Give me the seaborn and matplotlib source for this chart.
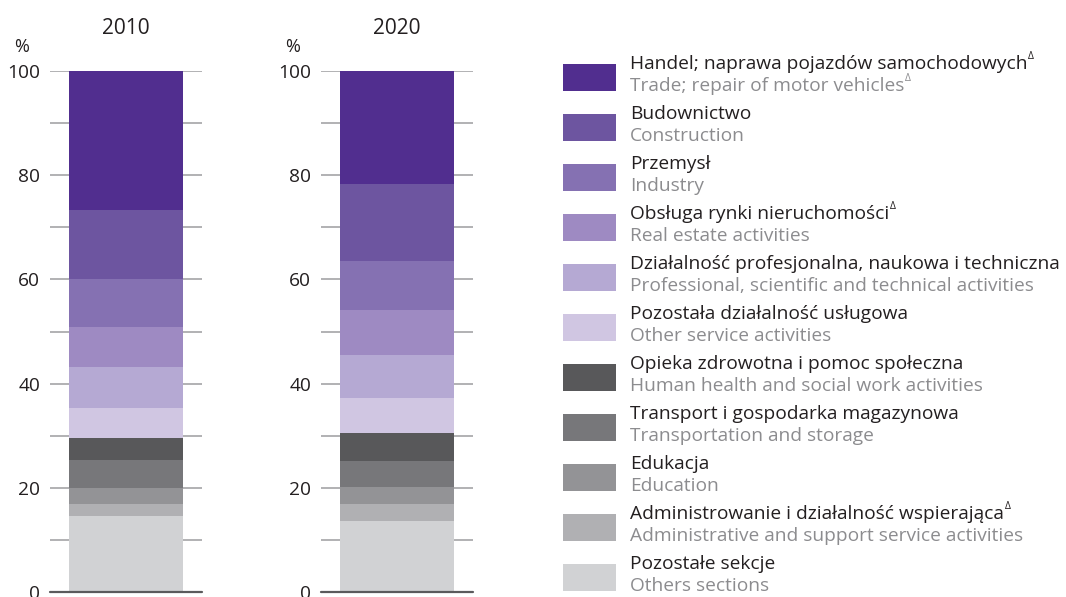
import matplotlib
matplotlib.use("Agg")
import matplotlib.pyplot as plt
from matplotlib.patches import Rectangle
import numpy as np
import pandas as pd
import seaborn as sns

years = ["2010", "2020"]

# Sections listed from the top of the stack down
sections_pl = [
    "Handel; naprawa pojazdów samochodowych",
    "Budownictwo",
    "Przemysł",
    "Obsługa rynki nieruchomości",
    "Działalność profesjonalna, naukowa i techniczna",
    "Pozostała działalność usługowa",
    "Opieka zdrowotna i pomoc społeczna",
    "Transport i gospodarka magazynowa",
    "Edukacja",
    "Administrowanie i działalność wspierająca",
    "Pozostałe sekcje",
]
sections_en = [
    "Trade; repair of motor vehicles",
    "Construction",
    "Industry",
    "Real estate activities",
    "Professional, scientific and technical activities",
    "Other service activities",
    "Human health and social work activities",
    "Transportation and storage",
    "Education",
    "Administrative and support service activities",
    "Others sections",
]
delta_marks = [True, False, False, True, False, False, False, False, False, True, False]
delta_marks_en = [True] + [False] * 10

share_2010 = [26.7, 13.2, 9.2, 7.7, 7.9, 5.7, 4.3, 5.3, 3.1, 2.3, 14.6]
share_2020 = [21.7, 14.8, 9.4, 8.6, 8.3, 6.7, 5.4, 4.9, 3.3, 3.3, 13.6]

colors = [
    "#512e8f", "#6d55a0", "#8571b2", "#9e8ac2", "#b5a9d3", "#d0c6e2",
    "#58585a", "#77777a", "#939396", "#b0b0b3", "#d1d2d4",
]

sns.set_theme(style="white")
plt.rcParams["font.family"] = ["Open Sans", "DejaVu Sans"]

W, H = 1066, 597
fig = plt.figure(figsize=(W / 100, H / 100), dpi=100)

TXT = "#231f20"
GRID = "#9d9d9f"

panels = [(50, years[0], share_2010), (321, years[1], share_2020)]
for left_px, year, shares in panels:
    ax = fig.add_axes([left_px / W, 5 / H, 152 / W, 521 / H])
    # cumulative tops from the bottom section upwards
    tops = np.cumsum(shares[::-1])[::-1]
    df = pd.DataFrame({"year": [year] * len(tops), "top": tops, "section": sections_pl})
    for i, row in df.iterrows():
        sns.barplot(x=[row["year"]], y=[row["top"]], color=colors[i],
                    width=0.75, saturation=1, ax=ax, zorder=2, linewidth=0)
    ax.set_xlim(-0.5, 0.5)
    ax.set_ylim(0, 100)
    ax.set_yticks(np.arange(0, 101, 20))
    ax.set_yticks(np.arange(10, 100, 20), minor=True)
    ax.set_xticks([])
    ax.set_xlabel("")
    ax.set_ylabel("")
    for y in np.arange(10, 101, 10):
        ax.axhline(y, color=GRID, lw=1.1, zorder=1)
    ax.axhline(0, color="#5a5a5c", lw=1.6, zorder=3, clip_on=False)
    for s in ax.spines.values():
        s.set_visible(False)
    ax.tick_params(axis="y", which="both", length=0, pad=7,
                   labelsize=13.8, labelcolor=TXT)
    ax.set_title(year, fontsize=15, color=TXT, pad=27)
    ax.text(-0.19, 1.028, "%", transform=ax.transAxes, fontsize=13,
            color=TXT, ha="center", va="bottom")

# Two-language legend on the right
lax = fig.add_axes([563 / W, 0, (W - 563) / W, 1])
lax.set_xlim(0, W - 563)
lax.set_ylim(H, 0)
lax.axis("off")
for i in range(len(sections_pl)):
    top = 64 + 50 * i
    lax.add_patch(Rectangle((0, top), 53, 27, facecolor=colors[i], edgecolor="none"))
    t1 = lax.text(67, top + 5, sections_pl[i], fontsize=13.8, color=TXT, va="baseline")
    t2 = lax.text(67, top + 27, sections_en[i], fontsize=13.8, color="#8c8c8f", va="baseline")
    if delta_marks[i]:
        lax.annotate("Δ", xy=(1, 0.6), xycoords=t1, fontsize=7.5, color=TXT,
                     va="bottom", ha="left", xytext=(0.5, 0), textcoords="offset points")
    if delta_marks_en[i]:
        lax.annotate("Δ", xy=(1, 0.6), xycoords=t2, fontsize=7.5, color="#8c8c8f",
                     va="bottom", ha="left", xytext=(0.5, 0), textcoords="offset points")

fig.savefig("out.png", dpi=100)
